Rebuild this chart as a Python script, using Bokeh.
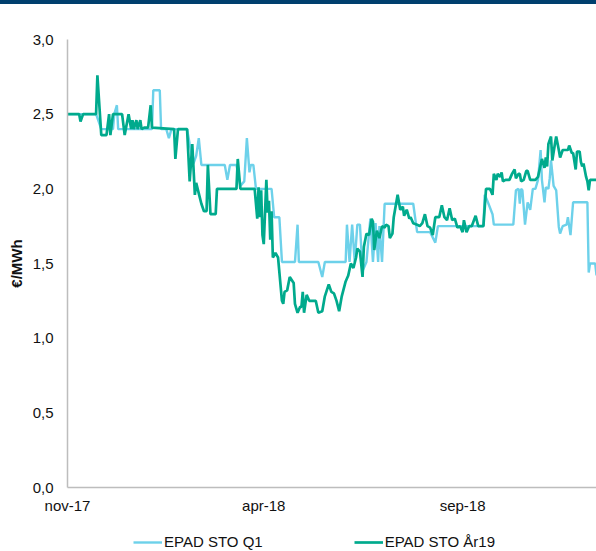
import pandas as pd
from bokeh.plotting import figure
from bokeh.models import (Range1d, FixedTicker, CustomJSTickFormatter, Legend,
                          LegendItem, Div)
from bokeh.layouts import column
from bokeh.embed import file_html
from bokeh.resources import INLINE

START = "2017-11-01"

# EPAD STO Q1 : days since 2017-11-01 and price (EUR/MWh)
q1_days = [0, 22, 26, 35, 36, 38, 39, 65, 66, 71, 72, 76, 78, 80, 92, 94, 97, 99,
           101, 103, 121, 123, 125, 130, 133, 136, 138, 140, 141, 143, 145, 157,
           159, 163, 165, 175, 177, 178, 193, 196, 198, 214, 215, 217, 219, 221,
           223, 225, 227, 230, 233, 235, 237, 239, 240, 242, 244, 266, 269, 279,
           283, 285, 320, 321, 323, 327, 328, 343, 345, 347, 348, 349, 350, 352,
           354, 356, 358, 360, 362, 364, 365, 367, 368, 370, 371, 372, 374, 376,
           378, 379, 381, 384, 385, 387, 389, 400, 401, 402, 406, 407]
q1_vals = [2.50, 2.50, 2.40, 2.40, 2.50, 2.56, 2.40, 2.40, 2.66, 2.66, 2.40, 2.40,
           2.34, 2.40, 2.40, 2.30, 2.17, 2.22, 2.34, 2.16, 2.16, 2.06, 2.16, 2.16,
           2.02, 2.05, 2.34, 2.11, 2.16, 2.16, 2.00, 2.00, 1.81, 1.81, 1.51, 1.51,
           1.76, 1.51, 1.51, 1.41, 1.51, 1.51, 1.76, 1.51, 1.76, 1.51, 1.76, 1.76,
           1.45, 1.51, 1.80, 1.51, 1.77, 1.51, 1.75, 1.51, 1.90, 1.90, 1.71, 1.71,
           1.64, 1.75, 1.75, 1.96, 1.92, 1.83, 1.76, 1.76, 1.99, 2.00, 1.90, 2.00,
           1.99, 1.76, 1.91, 1.86, 2.00, 2.00, 2.06, 2.26, 2.06, 1.91, 2.01, 2.00,
           2.07, 2.19, 2.02, 1.99, 1.745, 1.70, 1.75, 1.76, 1.81, 1.69, 1.91, 1.91,
           1.44, 1.50, 1.50, 1.42]

# EPAD STO År19
ar19_days = [0, 9, 10, 12, 22, 23, 26, 30, 32, 33, 35, 42, 44, 47, 49, 50, 51, 53,
             54, 56, 57, 59, 62, 64, 65, 82, 83, 85, 92, 94, 96, 98, 99, 101, 103,
             105, 107, 108, 110, 114, 115, 130, 131, 133, 144, 146, 147, 148, 149,
             150, 151, 153, 154, 155, 156, 157, 158, 160, 162, 165, 166, 167, 169,
             171, 174, 175, 177, 179, 180, 181, 182, 184, 186, 191, 193, 196, 198,
             201, 203, 205, 207, 209, 211, 214, 216, 218, 220, 222, 223, 225, 227,
             228, 230, 232, 234, 235, 236, 238, 240, 242, 244, 245, 247, 248, 250,
             251, 254, 256, 258, 259, 261, 263, 264, 266, 269, 271, 273, 275, 277,
             279, 281, 283, 286, 288, 290, 292, 294, 296, 298, 300, 302, 304, 305,
             307, 309, 311, 314, 316, 320, 322, 325, 327, 328, 330, 331, 333, 334,
             335, 337, 340, 342, 344, 345, 347, 348, 349, 351, 353, 354, 356, 360,
             362, 363, 365, 367, 368, 369, 370, 372, 373, 375, 376, 378, 379, 381,
             385, 386, 388, 389, 391, 392, 394, 395, 396, 397, 399, 400, 401, 402,
             407]
ar19_vals = [2.50, 2.50, 2.45, 2.50, 2.50, 2.76, 2.36, 2.36, 2.50, 2.36, 2.50, 2.50,
             2.36, 2.50, 2.40, 2.46, 2.40, 2.46, 2.40, 2.46, 2.40, 2.41, 2.41, 2.56,
             2.41, 2.40, 2.20, 2.40, 2.40, 2.05, 2.30, 1.96, 2.04, 1.97, 1.90, 1.85,
             1.85, 2.16, 1.83, 1.83, 2.00, 2.00, 2.20, 2.00, 2.00, 1.80, 2.01, 1.81,
             1.99, 1.69, 1.63, 2.06, 1.84, 1.92, 1.66, 1.85, 1.54, 1.57, 1.54, 1.25,
             1.23, 1.31, 1.32, 1.41, 1.37, 1.23, 1.17, 1.21, 1.21, 1.31, 1.17, 1.29,
             1.25, 1.25, 1.17, 1.18, 1.28, 1.36, 1.31, 1.30, 1.25, 1.18, 1.28, 1.38,
             1.42, 1.50, 1.47, 1.54, 1.60, 1.58, 1.41, 1.61, 1.70, 1.69, 1.80, 1.78,
             1.59, 1.72, 1.67, 1.75, 1.74, 1.76, 1.75, 1.67, 1.70, 1.81, 1.96, 1.86,
             1.88, 1.82, 1.86, 1.80, 1.81, 1.77, 1.76, 1.75, 1.77, 1.83, 1.75, 1.74,
             1.69, 1.81, 1.81, 1.89, 1.81, 1.79, 1.87, 1.79, 1.80, 1.74, 1.75, 1.71,
             1.79, 1.71, 1.75, 1.75, 1.82, 1.75, 1.75, 2.00, 2.00, 1.96, 2.10, 2.06,
             2.10, 2.08, 2.11, 2.05, 2.06, 2.06, 2.10, 2.13, 2.07, 2.10, 2.10, 2.05,
             2.06, 2.12, 2.12, 2.06, 2.06, 2.08, 2.12, 2.20, 2.14, 2.21, 2.15, 2.30,
             2.35, 2.19, 2.30, 2.35, 2.26, 2.21, 2.26, 2.26, 2.29, 2.24, 2.24, 2.13,
             2.25, 2.25, 2.18, 2.15, 2.17, 2.08, 2.05, 1.99, 2.06, 2.06]

x_tick_dates = ["2017-11-01", "2018-04-01", "2018-09-01"]
y_ticks = [0.0, 0.5, 1.0, 1.5, 2.0, 2.5, 3.0]
series_names = ["EPAD STO Q1", "EPAD STO År19"]
series_colors = ["#6dd1ea", "#00aa8d"]
series_widths = [2.4, 2.7]

start = pd.Timestamp(START)


def to_dates(days):
    return start + pd.to_timedelta(days, unit="D")


FONT = "Liberation Sans"

p = figure(width=596, height=513, x_axis_type="datetime",
           output_backend="svg", toolbar_location=None,
           x_range=Range1d(start, start + pd.Timedelta(days=407)),
           y_range=Range1d(0, 3.0),
           min_border_left=67, min_border_right=0,
           min_border_top=35, min_border_bottom=30)
p.outline_line_color = None
p.xgrid.visible = False
p.ygrid.visible = False

p.line(to_dates(q1_days), q1_vals, line_color=series_colors[0],
       line_width=series_widths[0])
p.line(to_dates(ar19_days), ar19_vals, line_color=series_colors[1],
       line_width=series_widths[1])

# x axis
ms = [pd.Timestamp(d).value / 1e6 for d in x_tick_dates]
p.xaxis.ticker = FixedTicker(ticks=ms)
p.xaxis.formatter = CustomJSTickFormatter(code="""
const m = ['jan','feb','mar','apr','maj','jun','jul','aug','sep','okt','nov','dec'];
const d = new Date(tick);
return m[d.getUTCMonth()] + '-' + String(d.getUTCFullYear()).slice(2);
""")
p.xaxis.major_tick_line_color = None
p.xaxis.minor_tick_line_color = None
p.xaxis.major_tick_out = 0
p.xaxis.major_tick_in = 0
p.xaxis.major_label_standoff = 9
p.xaxis.axis_line_color = "#bdbdbd"
p.xaxis.axis_line_width = 1.5

# y axis
p.yaxis.ticker = FixedTicker(ticks=y_ticks)
p.yaxis.formatter = CustomJSTickFormatter(code="return tick.toFixed(1).replace('.', ',');")
p.yaxis.major_tick_line_color = None
p.yaxis.minor_tick_line_color = None
p.yaxis.major_tick_out = 0
p.yaxis.major_tick_in = 0
p.yaxis.major_label_standoff = 14
p.yaxis.axis_line_color = "#bdbdbd"
p.yaxis.axis_line_width = 1.5
p.yaxis.axis_label = "€/MWh"
p.yaxis.axis_label_text_font_style = "bold"
p.yaxis.axis_label_standoff = 5

for ax in (p.xaxis, p.yaxis):
    ax.major_label_text_font = FONT
    ax.major_label_text_font_size = "15px"
    ax.major_label_text_color = "#111111"
    ax.axis_label_text_font = FONT
    ax.axis_label_text_font_size = "15px"
    ax.axis_label_text_color = "#111111"

# legend strip under the chart (placeholder renderers hold no visible points)
lg = figure(width=596, height=38, output_backend="svg", toolbar_location=None,
            x_range=Range1d(0, 1), y_range=Range1d(0, 1),
            x_axis_location=None, y_axis_location=None,
            min_border_left=0, min_border_right=0,
            min_border_top=0, min_border_bottom=0)
lg.outline_line_color = None
lg.xgrid.visible = False
lg.ygrid.visible = False
nan2 = [float("nan"), float("nan")]
lr1 = lg.line(nan2, nan2, line_color=series_colors[0], line_width=series_widths[0])
lr2 = lg.line(nan2, nan2, line_color=series_colors[1], line_width=series_widths[1])
legend = Legend(items=[LegendItem(label=series_names[0], renderers=[lr1]),
                       LegendItem(label=series_names[1], renderers=[lr2])],
                orientation="horizontal", location=(66, 5),
                padding=0, margin=0, spacing=91,
                glyph_width=29, glyph_height=16, label_height=16,
                label_standoff=2,
                label_text_font=FONT, label_text_font_size="15px",
                label_text_color="#111111",
                border_line_color=None, background_fill_alpha=0)
lg.add_layout(legend, "center")

bar = Div(text="", width=596, height=4, margin=0,
          styles={"background-color": "#003f6e"})

layout = column(bar, p, lg, spacing=0)

open("out.html", "w").write(file_html(layout, INLINE))
